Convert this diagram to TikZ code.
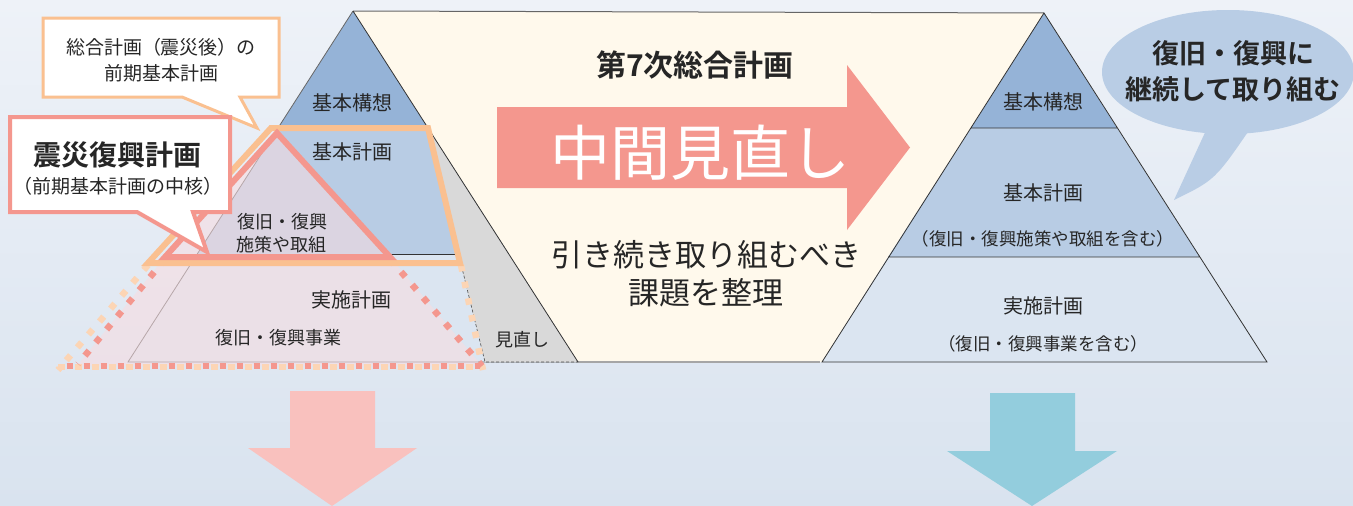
\documentclass[tikz,border=0pt]{standalone}
\usepackage{fontspec}
\newfontfamily\jp{Noto Sans CJK JP}
\newfontfamily\jpb{Noto Sans CJK JP Bold}
\definecolor{bgtop}{HTML}{EEF2F8}
\definecolor{bgbot}{HTML}{D9E3EF}
\definecolor{lay1}{HTML}{95B3D7}
\definecolor{lay2}{HTML}{B8CCE4}
\definecolor{lay3}{HTML}{DBE5F1}
\definecolor{cream}{HTML}{FFF9EC}
\definecolor{salmon}{HTML}{F4978E}
\definecolor{orng}{HTML}{FAC090}
\definecolor{orngl}{HTML}{FCD5B5}
\definecolor{pinkov}{HTML}{F9DCE0}
\definecolor{graybox}{HTML}{D9D9D9}
\definecolor{bubble}{HTML}{B9CDE5}
\definecolor{pinkarr}{HTML}{F9C1BE}
\definecolor{bluearr}{HTML}{93CDDD}
\definecolor{txt}{HTML}{262626}
\tikzset{
  jt/.style={font=\jp\fontsize{#1}{#1}\selectfont, text=txt, inner sep=0pt},
  jb/.style={font=\jpb\fontsize{#1}{#1}\selectfont, text=txt, inner sep=0pt},
  edge/.style={draw=black!80, line width=0.8pt},
  dotsq/.style={line width=6.5pt, dash pattern=on 6.5pt off 10.5pt},
}
\begin{document}
\begin{tikzpicture}[x=1pt,y=-1pt]
\useasboundingbox (0,0) rectangle (1353,506);
\shade[top color=bgtop,bottom color=bgbot] (0,0) rectangle (1353,506);

% cream middle region
\fill[cream] (353,11) -- (1044,13) -- (822,362) -- (578,362) -- cycle;
\draw[black!60, line width=1pt] (353,11) -- (1044,13);
\draw[black!35, line width=2pt] (578,362) -- (820,362);

% left pyramid
\fill[lay1] (353,11) -- (426,125) -- (280,125) -- cycle;
\fill[lay2] (280,125) -- (426,125) -- (509,254) -- (197,254) -- cycle;
\fill[lay3] (197,254) -- (509,254) -- (578,362) -- (128,362) -- cycle;
\draw[edge] (280,125) -- (426,125) (197,254) -- (509,254);
\draw[edge, draw=black!60] (353,11) -- (128,362) -- (578,362);
\fill[graybox] (426,125) -- (578,362) -- (485,362) -- cycle;
\draw[black!70, line width=0.6pt, densely dashed] (427,125) -- (485,362) -- (578,362);
\draw[edge] (353,11) -- (578,362);

% red translucent overlay
\fill[pinkov, opacity=0.55] (277,133) -- (390,257) -- (482,366) -- (77,366) -- (165,257) -- cycle;

% dotted outlines
\draw[orngl, dotsq] (148,265) -- (58,370);
\draw[orngl, dotsq] (461,265) -- (483,370);
\draw[orngl, dotsq] (58,367) -- (484,367);
\draw[salmon, dotsq] (165,259) -- (78,364);
\draw[salmon, dotsq] (390,259) -- (482,366);
\draw[salmon, dotsq] (66.5,366) -- (480,366);

% solid outlines
\draw[orng, line width=6pt, line join=miter] (148,263) -- (271,128) -- (428,128) -- (460,263) -- cycle;
\draw[salmon, line width=6pt, line join=miter] (165,257) -- (277,133) -- (390,257) -- cycle;

% left pyramid labels
\node[jt=20] (lk1) at (352,103) {基本構想};
\node[jt=20] (lk2) at (352,152) {基本計画};
\node[jt=18] (lf1) at (282,222) {復旧・復興};
\node[jt=18] (lf2) at (281,245) {施策や取組};
\node[jt=20] (lk3) at (351,300) {実施計画};
\node[jt=18] (lf3) at (278,338) {復旧・復興事業};
\node[jt=18] (lmn) at (522,340) {見直し};

% callout: overall plan
\draw[orng, line width=3pt, fill=white, line join=miter] (43,18) -- (279,18) -- (279,97) -- (240,97) -- (257,128) -- (182,97) -- (43,97) -- cycle;
\node[jt=19] (c1a) at (161,47) {総合計画（震災後）の};
\node[jt=19] (c1b) at (161,73) {前期基本計画};

% callout: reconstruction plan
\draw[salmon, line width=4pt, fill=white, line join=miter] (10,117) -- (230,117) -- (230,212) -- (193,212) -- (207,252) -- (137,212) -- (10,212) -- cycle;
\node[jb=28] (c2a) at (118,155) {震災復興計画};
\node[jt=19] (c2b) at (118,186) {（前期基本計画の中核）};

% right pyramid
\fill[lay1] (1044,13) -- (1117,128) -- (971,128) -- cycle;
\fill[lay2] (971,128) -- (1117,128) -- (1200,257) -- (888,257) -- cycle;
\fill[lay3] (888,257) -- (1200,257) -- (1267,362) -- (822,362) -- cycle;
\draw[edge] (1044,13) -- (822,362) -- (1267,362) -- cycle (971,128) -- (1117,128) (888,257) -- (1200,257);
\node[jt=20] (rk1) at (1043,102) {基本構想};
\node[jt=20] (rk2) at (1043,193) {基本計画};
\node[jt=17.5] (rk2s) at (1043,239) {（復旧・復興施策や取組を含む）};
\node[jt=20] (rk3) at (1043,306) {実施計画};
\node[jt=17.5] (rk3s) at (1043,344) {（復旧・復興事業を含む）};

% speech bubble
\fill[bubble] (1228,72) ellipse [x radius=126, y radius=62];
\fill[bubble] (1208,126) -- (1174,200) .. controls (1215,180) .. (1252,126) -- cycle;
\node[jb=27] (bb1) at (1233,53) {復旧・復興に};
\node[jb=27] (bb2) at (1233,89) {継続して取り組む};

% middle
\node[jb=30] (m0) at (695,65) {第7次総合計画};
\fill[salmon] (497,107) -- (847,107) -- (847,65) -- (910,147.5) -- (847,230) -- (847,188) -- (497,188) -- cycle;
\node[jt=60, text=white] (m1) at (700,153) {中間見直し};
\node[jt=31] (m2) at (706,255) {引き続き取り組むべき};
\node[jt=31] (m3) at (706,293) {課題を整理};

% down arrows
\fill[pinkarr] (290,391) -- (375,391) -- (375,448) -- (417,448) -- (332,506) -- (248,448) -- (290,448) -- cycle;
\fill[bluearr] (990,393) -- (1075,393) -- (1075,451) -- (1117,451) -- (1032,506) -- (947,451) -- (990,451) -- cycle;
\end{tikzpicture}
\end{document}
